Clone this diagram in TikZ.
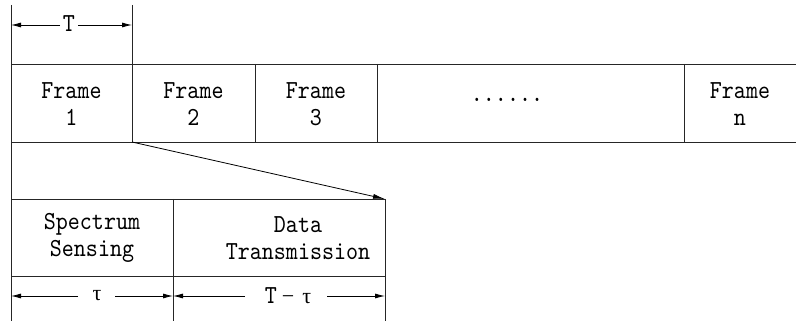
\documentclass[tikz,border=0pt]{standalone}
\usepackage{fontspec}
\newfontfamily\diagmono[FakeStretch=0.88]{lmmono10-regular.otf}
\newfontfamily\greekf{Liberation Serif}
\usetikzlibrary{arrows.meta}
\begin{document}
\begin{tikzpicture}[x=1pt,y=-1pt,
  ln/.style={line width=0.9pt, draw=black!85},
  dim/.style={line width=0.8pt, -{Latex[length=10pt,width=5pt]}},
  lbl/.style={font=\diagmono\fontsize{26}{27.5}\selectfont, align=center, inner sep=0pt}]
\useasboundingbox (0,0) rectangle (796,323);
% key coordinates
\coordinate (L0) at (11,5);   \coordinate (L1) at (11,321);
\coordinate (T0) at (132,5);  \coordinate (T1) at (132,142);
\coordinate (R0) at (11,64);  \coordinate (R0e) at (796,64);
\coordinate (R1) at (11,142); \coordinate (R1e) at (796,142);
\coordinate (B0) at (11,199); \coordinate (B0e) at (385,199);
\coordinate (B1) at (11,276); \coordinate (B1e) at (385,276);
% verticals
\draw[ln] (L0) -- (L1);
\draw[ln] (T0) -- (T1);
\draw[ln] (R0) -- (R0e);
\draw[ln] (R1) -- (R1e);
\foreach \x/\n in {255/a,377/b,684/c}{
  \coordinate (V\n0) at (\x,64); \coordinate (V\n1) at (\x,142);
  \draw[ln] (V\n0) -- (V\n1);}
% frame labels
\node[lbl] (f1) at (71.5,104) {Frame\\1};
\node[lbl] (f2) at (193.5,104) {Frame\\2};
\node[lbl] (f3) at (316,104) {Frame\\3};
\node[lbl] (fd) at (507,100) {......};
\node[lbl] (fn) at (740,104) {Frame\\n};
% top dimension T
\coordinate (ta) at (11,25); \coordinate (tb) at (132,25);
\coordinate (tTw) at (60,25); \coordinate (tTe) at (78,25);
\node[lbl] (tT) at (69,24) {T};
\draw[dim] (tTw) -- (ta);
\draw[dim] (tTe) -- (tb);
% zoom line
\draw[line width=0.8pt, -{Latex[length=12pt,width=5pt]}] (T1) -- (B0e);
% bottom box
\draw[ln] (B0) -- (B0e);
\draw[ln] (B1) -- (B1e);
\coordinate (D0) at (173,199); \coordinate (D1) at (173,321);
\coordinate (E0) at (385,199); \coordinate (E1) at (385,321);
\draw[ln] (D0) -- (D1);
\draw[ln] (E0) -- (E1);
\node[lbl] (ss) at (92,238) {Spectrum\\Sensing};
\node[lbl] (dt) at (298,238) {Data\\Transmission};
% bottom dimensions
\coordinate (ba) at (11,296); \coordinate (bb) at (173,296); \coordinate (bc) at (385,296);
\coordinate (tau1) at (78,296); \coordinate (tau2) at (115,296);
\coordinate (tt1) at (245,296); \coordinate (tt2) at (327,296);
\node[lbl] (tau) at (97,296) {\greekf\fontsize{22}{24}\selectfont τ};
\node[lbl] (tmt) at (288,296) {T\hspace{5pt}{\greekf\fontsize{22}{24}\selectfont −\hspace{8pt}τ}};
\draw[dim] (tau1) -- (ba);
\draw[dim] (tau2) -- (bb);
\draw[dim] (tt1) -- (bb);
\draw[dim] (tt2) -- (bc);
\end{tikzpicture}
\end{document}
